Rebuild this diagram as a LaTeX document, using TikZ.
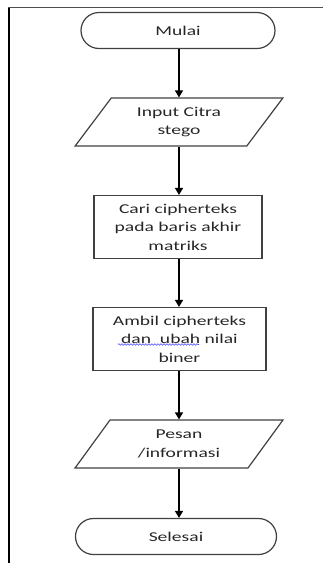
\documentclass[tikz,border=0pt]{standalone}
\usepackage{fontspec}
\setmainfont{Carlito}[FakeStretch=1.45]
\usetikzlibrary{shapes.geometric,shapes.misc,arrows.meta,decorations.pathmorphing}

\begin{document}
\begin{tikzpicture}[x=1pt,y=-1pt,
  every node/.style={font=\fontsize{13.5}{18.5}\selectfont, text=black!85, align=center,
    draw=black!75, line width=1.2pt, inner sep=2pt},
  terminal/.style={rounded rectangle, minimum width=#1, minimum height=36pt},
  iobox/.style={trapezium, trapezium left angle=55.5, trapezium right angle=124.5,
    trapezium stretches=true, minimum width=208pt, minimum height=48pt},
  procbox/.style={rectangle, minimum width=#1, minimum height=63pt},
  flow/.style={line width=1.5pt, black, -{Triangle[length=7pt,width=8pt]}}
]
\useasboundingbox (0,0) rectangle (323,563);

% page frame: left rule and top rule
\draw[line width=2pt, black] (8.5,7) -- (8.5,563);
\draw[line width=1.5pt, black!70] (8,7.5) -- (323,7.5);

% flowchart steps
\node[terminal=198pt] (start) at (178,30.5) {Mulai};
\node[iobox] (input) at (179,122) {Input Citra\\stego};
\node[procbox=168pt] (find) at (178,227) {Cari cipherteks\\pada baris akhir\\matriks};
\node[procbox=173pt] (take) at (179.5,339) {Ambil cipherteks\\dan\ \ ubah nilai\\biner};
\node[iobox] (msg) at (179,444) {Pesan\\/informasi};
\node[terminal=205pt] (stop) at (176,536.5) {Selesai};

% spell-check underline
\draw[blue!70, line width=0.6pt, decorate,
  decoration={snake, amplitude=0.8pt, segment length=3pt}]
  (118,344.5) -- (199,344.5);

% connectors
\draw[flow] (start.south -| 179,0) -- (input.north -| 179,0);
\draw[flow] (input.south -| 179,0) -- (find.north -| 179,0);
\draw[flow] (find.south -| 179,0) -- (take.north -| 179,0);
\draw[flow] (take.south -| 179,0) -- (msg.north -| 179,0);
\draw[flow] (msg.south -| 179,0) -- (stop.north -| 179,0);
\end{tikzpicture}
\end{document}
